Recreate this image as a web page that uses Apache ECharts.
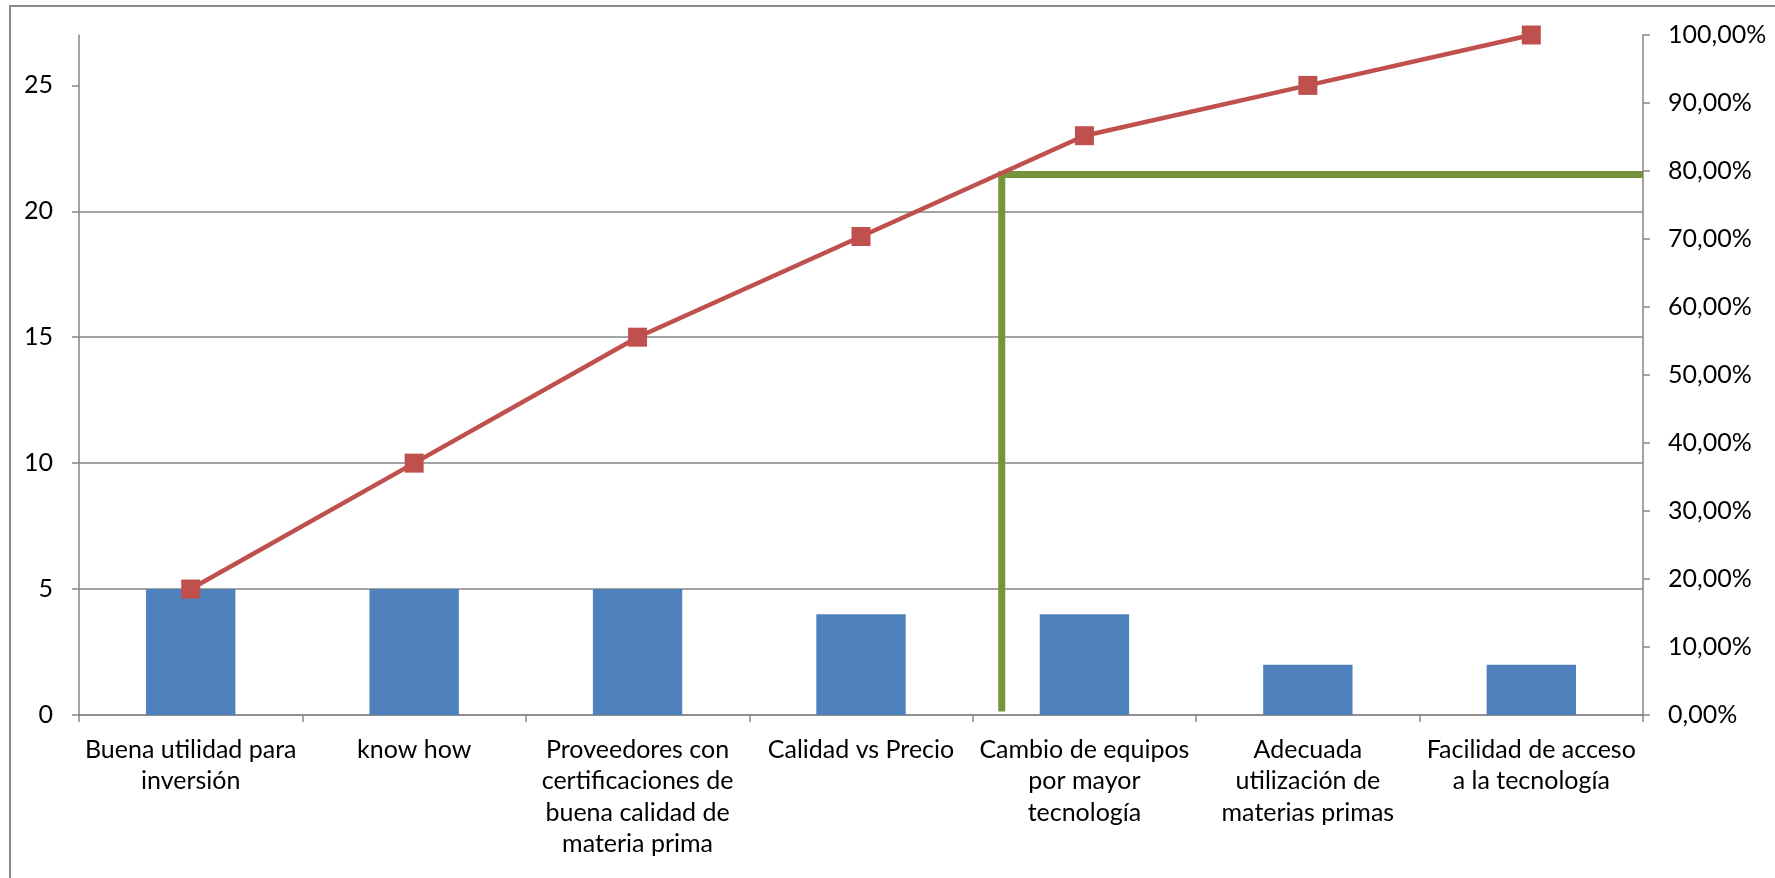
<!DOCTYPE html>
<html>
<head>
<meta charset="utf-8">
<script src="https://cdn.jsdelivr.net/npm/echarts@6/dist/echarts.min.js"></script>
<style>
  html, body { margin: 0; padding: 0; background: #fff; }
  #chart { width: 1775px; height: 878px; }
</style>
</head>
<body>
<div id="chart"></div>
<script>
// Pareto chart: frequency per factor (bars) and cumulative percentage (line)
const categories = [
  'Buena utilidad para\ninversión',
  'know how',
  'Proveedores con\ncertificaciones de\nbuena calidad de\nmateria prima',
  'Calidad vs Precio',
  'Cambio de equipos\npor mayor\ntecnología',
  'Adecuada\nutilización de\nmaterias primas',
  'Facilidad de acceso\na la tecnología'
];
const frequencies = [5, 5, 5, 4, 4, 2, 2];
const cumulativePercent = [18.52, 37.04, 55.56, 70.37, 85.19, 92.59, 100];
const leftTicks = [0, 5, 10, 15, 20, 25];
const leftMax = 27;
// 80% cut-off guide: [category position, percent]
const cutoffLine = [[4.13, 0.5], [4.13, 79.5], [7, 79.5]];

const FONT = 'Lato';
const AXIS_GRAY = '#868686';

const chart = echarts.init(document.getElementById('chart'));
chart.setOption({
  animation: false,
  textStyle: { fontFamily: FONT },
  graphic: [{
    type: 'rect',
    shape: { x: 10, y: 6, width: 1800, height: 900 },
    style: { fill: 'none', stroke: '#8a8a8a', lineWidth: 2 },
    silent: true
  }],
  grid: { left: 79, right: 132, top: 35, bottom: 163, containLabel: false },
  xAxis: [{
    type: 'category',
    data: categories,
    boundaryGap: true,
    axisLine: { lineStyle: { color: AXIS_GRAY, width: 1.5 } },
    axisTick: { show: true, alignWithLabel: false, length: 7, inside: false, lineStyle: { color: AXIS_GRAY, width: 1.5 } },
    axisLabel: {
      interval: 0, margin: 19, color: '#000', fontSize: 25, lineHeight: 31.5, fontFamily: FONT, align: 'center'
    }
  }, {
    type: 'value',
    min: 0, max: 7,
    show: false
  }],
  yAxis: [{
    type: 'value',
    min: 0, max: leftMax, interval: 5,
    position: 'left',
    axisLine: { show: true, lineStyle: { color: AXIS_GRAY, width: 1.5 } },
    axisTick: { show: true, length: 7, customValues: leftTicks, lineStyle: { color: AXIS_GRAY, width: 1.5 } },
    axisLabel: { margin: 26, color: '#000', fontSize: 25, fontFamily: FONT, customValues: leftTicks },
    splitLine: { show: true, showMaxLine: false, lineStyle: { color: AXIS_GRAY, width: 1.5 } }
  }, {
    type: 'value',
    min: 0, max: 100, interval: 10,
    position: 'right',
    axisLine: { show: true, lineStyle: { color: AXIS_GRAY, width: 1.5 } },
    axisTick: { show: true, length: 7, lineStyle: { color: AXIS_GRAY, width: 1.5 } },
    axisLabel: {
      margin: 25, color: '#000', fontSize: 25, fontFamily: FONT,
      formatter: v => v.toFixed(2).replace('.', ',') + '%'
    },
    splitLine: { show: false }
  }],
  series: [{
    type: 'bar',
    data: frequencies,
    xAxisIndex: 0, yAxisIndex: 0,
    barWidth: '40%',
    itemStyle: { color: '#4F81BD' }
  }, {
    type: 'line',
    data: cumulativePercent,
    xAxisIndex: 0, yAxisIndex: 1,
    symbol: 'rect', symbolSize: 19,
    lineStyle: { color: '#C0504D', width: 4.5 },
    itemStyle: { color: '#C0504D' },
    z: 5
  }, {
    type: 'line',
    data: cutoffLine,
    xAxisIndex: 1, yAxisIndex: 1,
    symbol: 'none',
    lineStyle: { color: '#77933C', width: 7, join: 'miter', cap: 'butt' },
    z: 4
  }]
});
</script>
</body>
</html>
